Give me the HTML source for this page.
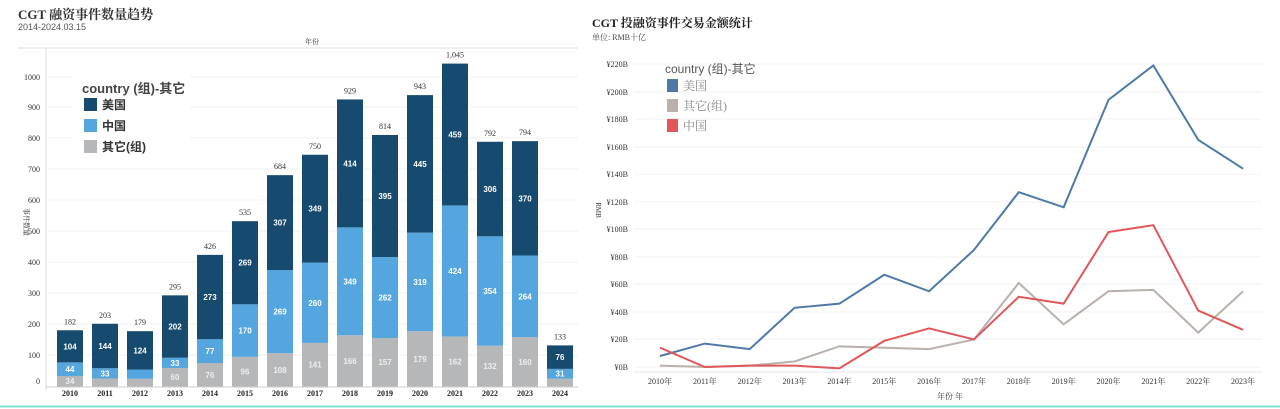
<!DOCTYPE html>
<html><head><meta charset="utf-8"><style>
body{margin:0;background:#fff;}
svg{display:block;font-family:"Liberation Serif","Noto Serif CJK SC",serif;}
.s{font-family:"Liberation Sans","Noto Sans CJK SC",sans-serif;}
</style></head><body>
<svg width="1280" height="409" viewBox="0 0 1280 409" xmlns="http://www.w3.org/2000/svg">
<rect width="1280" height="409" fill="#fff"/>
<!-- LEFT -->
<text x="18" y="19" font-size="13" font-weight="bold" fill="#333">CGT 融资事件数量趋势</text>
<text x="18" y="30" font-size="9" fill="#555" class="s">2014-2024.03.15</text>
<text x="312" y="44" font-size="7" fill="#333" text-anchor="middle">年份</text>
<line x1="18" y1="48" x2="578" y2="48" stroke="#ddd"/>
<line x1="46" y1="48" x2="46" y2="390" stroke="#ddd"/>
<g stroke="#f0f0f0">
<line x1="46" y1="355" x2="578" y2="355"/><line x1="46" y1="324" x2="578" y2="324"/><line x1="46" y1="293" x2="578" y2="293"/><line x1="46" y1="262" x2="578" y2="262"/><line x1="46" y1="231" x2="578" y2="231"/><line x1="46" y1="200" x2="578" y2="200"/><line x1="46" y1="169" x2="578" y2="169"/><line x1="46" y1="138" x2="578" y2="138"/><line x1="46" y1="107" x2="578" y2="107"/><line x1="46" y1="77" x2="578" y2="77"/>
</g>
<line x1="46" y1="387" x2="578" y2="387" stroke="#ccc"/>
<g font-size="8" fill="#333" text-anchor="end">
<text x="40" y="384">0</text><text x="40" y="358">100</text><text x="40" y="327">200</text><text x="40" y="296">300</text><text x="40" y="265">400</text><text x="40" y="234">500</text><text x="40" y="203">600</text><text x="40" y="172">700</text><text x="40" y="141">800</text><text x="40" y="110">900</text><text x="40" y="80">1000</text>
</g>
<text transform="translate(24,222) rotate(90)" font-size="7" fill="#333" text-anchor="middle">事件数量</text>
<g id="bars"></g>
<g font-size="8" font-weight="bold" fill="#222" text-anchor="middle" id="xl"></g>
<rect x="72" y="76" width="118" height="82" fill="#fff"/>
<text x="82" y="93" font-size="13" font-weight="bold" fill="#444" class="s">country (组)-其它</text>
<rect x="84" y="98" width="13" height="13" fill="#164a6e"/><text x="102" y="109" font-size="12" font-weight="bold" fill="#333" class="s">美国</text>
<rect x="84" y="119" width="13" height="13" fill="#55a6df"/><text x="102" y="130" font-size="12" font-weight="bold" fill="#333" class="s">中国</text>
<rect x="84" y="140" width="13" height="13" fill="#b5b7b9"/><text x="102" y="151" font-size="12" font-weight="bold" fill="#333" class="s">其它(组)</text>

<!-- RIGHT -->
<text x="592" y="27" font-size="12" font-weight="bold" fill="#222">CGT 投融资事件交易金额统计</text>
<text x="592" y="40" font-size="8" fill="#444">单位: RMB十亿</text>
<g stroke="#f2f2f2">
<line x1="634" y1="64" x2="1262" y2="64"/><line x1="634" y1="92" x2="1262" y2="92"/><line x1="634" y1="119" x2="1262" y2="119"/><line x1="634" y1="147" x2="1262" y2="147"/><line x1="634" y1="174" x2="1262" y2="174"/><line x1="634" y1="202" x2="1262" y2="202"/><line x1="634" y1="229" x2="1262" y2="229"/><line x1="634" y1="257" x2="1262" y2="257"/><line x1="634" y1="284" x2="1262" y2="284"/><line x1="634" y1="312" x2="1262" y2="312"/><line x1="634" y1="339" x2="1262" y2="339"/><line x1="634" y1="367" x2="1262" y2="367"/>
</g>
<line x1="634" y1="372" x2="1262" y2="372" stroke="#e6e6e6"/>
<g font-size="8" fill="#333" text-anchor="end">
<text x="628" y="370">¥0B</text><text x="628" y="342">¥20B</text><text x="628" y="315">¥40B</text><text x="628" y="287">¥60B</text><text x="628" y="260">¥80B</text><text x="628" y="232">¥100B</text><text x="628" y="205">¥120B</text><text x="628" y="177">¥140B</text><text x="628" y="150">¥160B</text><text x="628" y="122">¥180B</text><text x="628" y="95">¥200B</text><text x="628" y="67">¥220B</text>
</g>
<text transform="translate(596,210) rotate(90)" font-size="7" fill="#333" text-anchor="middle">RMB</text>
<g font-size="8" fill="#333" text-anchor="middle" id="rx"></g>
<text x="950" y="399" font-size="8" fill="#333" text-anchor="middle">年份 年</text>
<g fill="none" stroke-width="2" id="lines"></g>
<text x="665" y="73" font-size="12" fill="#555" class="s">country (组)-其它</text>
<rect x="667" y="79" width="11" height="13" fill="#4e79a7"/><text x="683" y="90" font-size="12" fill="#888">美国</text>
<rect x="667" y="99" width="11" height="13" fill="#bab0ac"/><text x="683" y="110" font-size="12" fill="#888">其它(组)</text>
<rect x="667" y="119" width="11" height="13" fill="#e15759"/><text x="683" y="130" font-size="12" fill="#888">中国</text>
<line x1="0" y1="406.5" x2="1280" y2="406.5" stroke="#7fe0d0" stroke-width="2"/>
</svg>
<script>
var NS="http://www.w3.org/2000/svg";
function el(p,t,a,txt){var e=document.createElementNS(NS,t);for(var k in a)e.setAttribute(k,a[k]);if(txt!=null)e.textContent=txt;p.appendChild(e);return e;}
var d=[[34,44,104,1],[26,33,144,0],[25,30,124,0],[60,33,202,1],[76,77,273,1],[96,170,269,1],[108,269,307,1],[141,260,349,1],[166,349,414,1],[157,262,395,1],[179,319,445,1],[162,424,459,1],[132,354,306,1],[160,264,370,1],[26,31,76,0]];
var bars=document.getElementById('bars'),xl=document.getElementById('xl');
var z=386.5,k=0.309,cols=['#b5b7b9','#55a6df','#164a6e'];
d.forEach(function(r,i){var cx=70+i*35,y=z;
for(var j=0;j<3;j++){var h=r[j]*k;el(bars,'rect',{x:cx-13,y:y-h,width:26,height:h,fill:cols[j]});
var show=!(j==0&&(i==1||i==2||i==14))&&!(j==1&&i==2);
if(show)el(bars,'text',{x:cx,y:y-h/2+3,'font-size':8,'font-weight':'bold',fill:j==0?'#eee':'#fff','text-anchor':'middle','font-family':'Liberation Sans,sans-serif'},r[j]);
y-=h;}
var t=r[0]+r[1]+r[2];el(bars,'text',{x:cx,y:y-6,'font-size':8,fill:'#333','text-anchor':'middle'},t>=1000?'1,045':t);
el(xl,'text',{x:cx,y:396},2010+i);});
var rx=document.getElementById('rx');
for(var i=0;i<14;i++)el(rx,'text',{x:660+i*44.85,y:384},(2010+i)+'年');
var L=[[ '#4e79a7',[8,17,13,43,46,67,55,85,127,116,194,219,165,144]],['#bab0ac',[1,0,1,4,15,14,13,20,61,31,55,56,25,55]],['#e15759',[14,0,1,1,-1,19,28,20,51,46,98,103,41,27]]];
var lg=document.getElementById('lines');
L.forEach(function(s){var p=s[1].map(function(v,i){return (660+i*44.85)+','+(367-v*1.377)}).join(' ');el(lg,'polyline',{points:p,stroke:s[0]});});
</script>
</body></html>
